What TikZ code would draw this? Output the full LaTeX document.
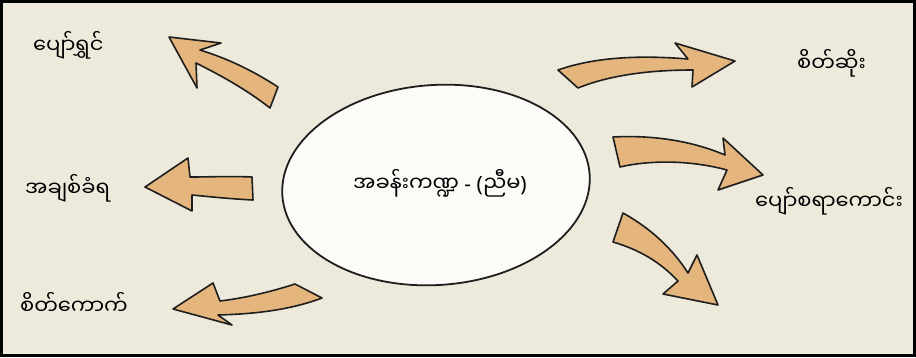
\documentclass[tikz,border=0pt]{standalone}
\usepackage{fontspec}
\newfontfamily\myfont[Script=Myanmar]{Noto Sans Myanmar UI}
\newfontfamily\latfont{Noto Sans}
\definecolor{bgbeige}{RGB}{237,233,219}
\definecolor{arrowtan}{RGB}{229,181,126}
\definecolor{blobfill}{RGB}{252,251,248}
\definecolor{outline}{RGB}{30,30,30}
\tikzset{
  blockarrow/.style={fill=arrowtan, draw=outline, line width=1.6, line join=round},
  lbl/.style={font=\myfont\fontsize{21}{24}\selectfont, inner sep=0pt, anchor=west, text=black},
  centertext/.style={font=\fontsize{21}{24}\selectfont, inner sep=0pt, text=black}
}
\begin{document}
\begin{tikzpicture}[x=1pt,y=-1pt]
\useasboundingbox (0,0) rectangle (916,357);
\fill[bgbeige] (0,0) rectangle (916,357);
\draw[black, line width=3] (1.5,1.5) rectangle (914.5,355.5);

% central blob
\draw[fill=blobfill, draw=outline, line width=1.8, shift={(436,185)}, rotate=4]
  (0,0) ellipse [x radius=154pt, y radius=100pt];
\node[centertext] (c) at (440,183) {{\myfont အခန်းကဏ္ဍ}{\latfont\ - (}{\myfont ညီမ}{\latfont )}};

% arrows
% top-left
\draw[blockarrow] (278,87) .. controls (252,70) and (226,58) .. (200,50) -- (221,43) -- (169,37) -- (197,88) -- (196,63) .. controls (222,76) and (247,90) .. (270,108) -- cycle;
% top-right
\draw[blockarrow] (558,70) .. controls (595,57) and (640,55) .. (688,59) -- (675,43) -- (735,61) -- (692,87) -- (693,70) .. controls (650,70) and (610,75) .. (578,88) -- cycle;
% right middle
\draw[blockarrow] (613,137) .. controls (650,135) and (690,140) .. (725,155) -- (723,138) -- (763,175) -- (718,190) -- (727,170) .. controls (690,160) and (650,160) .. (620,167) -- cycle;
% left middle
\draw[blockarrow] (252,177) .. controls (230,176) and (210,177) .. (190,177) -- (188,158) -- (145,187) -- (192,211) -- (192,195) .. controls (212,197) and (233,199) .. (253,200) -- cycle;
% bottom-left
\draw[blockarrow] (295,284) -- (322,298) .. controls (290,310) and (255,314) .. (218,315) -- (232,325) -- (173,309) -- (213,283) -- (220,301) .. controls (245,298) and (270,292) .. (295,284) -- cycle;
% bottom-right
\draw[blockarrow] (623,213) .. controls (650,228) and (672,248) .. (688,273) -- (697,255) -- (718,305) -- (663,294) -- (678,281) .. controls (660,262) and (640,250) .. (613,242) -- cycle;

% labels
\node[lbl] (happy) at (33,45) {ပျော်ရွှင်};
\node[lbl] (angry) at (797,63) {စိတ်ဆိုး};
\node[lbl] (fun) at (755,201) {ပျော်စရာကောင်း};
\node[lbl] (loved) at (25,188) {အချစ်ခံရ};
\node[lbl] (sulky) at (20,303) {စိတ်ကောက်};
\end{tikzpicture}
\end{document}
